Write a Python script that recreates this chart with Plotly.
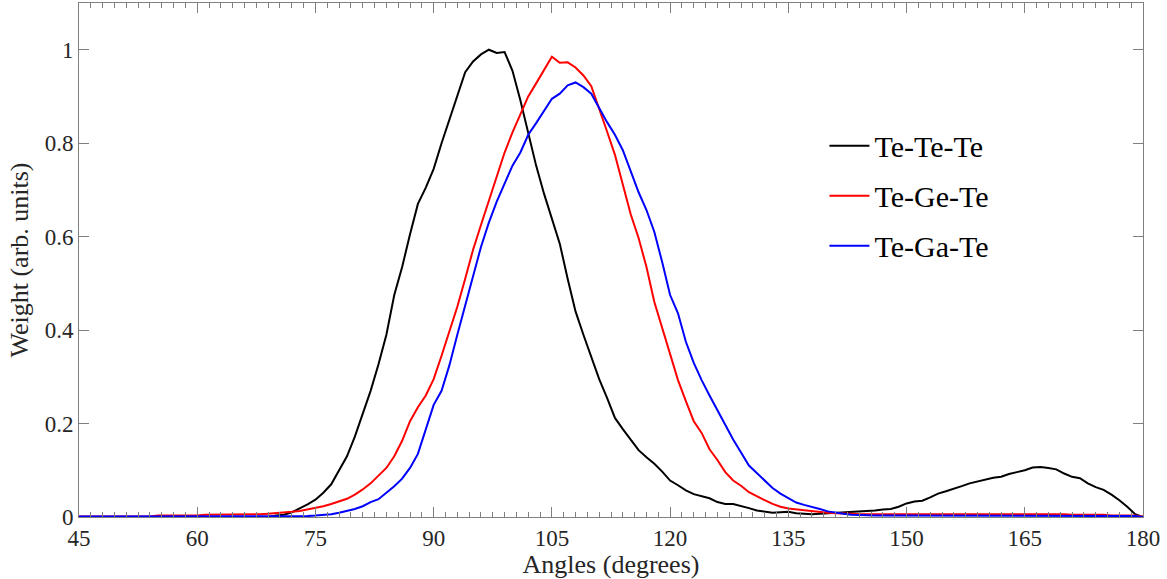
import plotly.graph_objects as go

angles = list(range(45, 181))

te_te_te = ([0.0] * 25 +  # 45-69
    [0.003, 0.005, 0.01, 0.018, 0.027, 0.037, 0.052, 0.07, 0.1, 0.13,   # 70-79
     0.172, 0.22, 0.27, 0.327, 0.39, 0.475, 0.535, 0.605, 0.67, 0.705,  # 80-89
     0.745, 0.8, 0.85, 0.9, 0.952, 0.975, 0.99, 1.0, 0.993, 0.995,      # 90-99
     0.955, 0.892, 0.825, 0.752, 0.692, 0.64, 0.585, 0.51, 0.44, 0.39,   # 100-109
     0.34, 0.295, 0.255, 0.212, 0.188, 0.165, 0.143, 0.128, 0.114, 0.097,  # 110-119
     0.078, 0.068, 0.057, 0.049, 0.045, 0.04, 0.032, 0.028, 0.028, 0.024,  # 120-129
     0.019, 0.014, 0.011, 0.009, 0.01, 0.011, 0.008, 0.007, 0.006, 0.007,  # 130-139
     0.008, 0.009, 0.01, 0.01, 0.011, 0.012, 0.014, 0.016, 0.017, 0.022,  # 140-149
     0.029, 0.033, 0.035, 0.042, 0.05, 0.055, 0.06, 0.066, 0.072, 0.076,  # 150-159
     0.081, 0.084, 0.086, 0.092, 0.096, 0.1, 0.106, 0.107, 0.105, 0.102,  # 160-169
     0.093, 0.086, 0.083, 0.072, 0.064, 0.058, 0.048, 0.036, 0.022, 0.006,  # 170-179
     0.0])

te_ge_te = ([0.001] * 10 + [0.003] * 6 + [0.005] * 7 +  # 45-67
    [0.006, 0.007,                                                        # 68-69
     0.008, 0.01, 0.011, 0.013, 0.016, 0.019, 0.023, 0.028, 0.033, 0.039,  # 70-79
     0.048, 0.059, 0.072, 0.088, 0.105, 0.13, 0.163, 0.205, 0.235, 0.26,  # 80-89
     0.295, 0.345, 0.395, 0.45, 0.51, 0.572, 0.625, 0.678, 0.73, 0.78,    # 90-99
     0.823, 0.86, 0.9, 0.928, 0.958, 0.985, 0.972, 0.973, 0.962, 0.945,   # 100-109
     0.922, 0.875, 0.825, 0.775, 0.71, 0.648, 0.597, 0.535, 0.46, 0.405,  # 110-119
     0.35, 0.293, 0.248, 0.205, 0.18, 0.145, 0.122, 0.096, 0.078, 0.067,  # 120-129
     0.053, 0.044, 0.036, 0.028, 0.022, 0.018, 0.016, 0.014, 0.012, 0.01,  # 130-139
     0.009, 0.008, 0.008, 0.007, 0.006, 0.006, 0.006, 0.006, 0.006, 0.006,  # 140-149
     0.006, 0.006, 0.006, 0.006, 0.006, 0.007, 0.007, 0.007, 0.007, 0.007,  # 150-159
     0.007, 0.007, 0.007, 0.007, 0.007, 0.007, 0.007, 0.007, 0.006, 0.006,  # 160-169
     0.006, 0.005, 0.005, 0.005, 0.005, 0.005, 0.003, 0.003, 0.003, 0.003,  # 170-179
     0.001])

te_ga_te = ([0.001] * 26 +  # 45-70
    [0.002, 0.002, 0.002, 0.002, 0.003, 0.004, 0.006, 0.009, 0.013,       # 71-79
     0.017, 0.023, 0.032, 0.038, 0.051, 0.066, 0.082, 0.105, 0.135, 0.19,  # 80-89
     0.24, 0.27, 0.325, 0.39, 0.455, 0.515, 0.578, 0.63, 0.675, 0.712,    # 90-99
     0.752, 0.78, 0.818, 0.843, 0.87, 0.895, 0.906, 0.924, 0.93, 0.92,    # 100-109
     0.906, 0.875, 0.845, 0.818, 0.785, 0.74, 0.695, 0.657, 0.61, 0.545,  # 110-119
     0.475, 0.436, 0.375, 0.33, 0.293, 0.26, 0.228, 0.195, 0.166, 0.138,  # 120-129
     0.11, 0.094, 0.077, 0.062, 0.05, 0.04, 0.031, 0.026, 0.022, 0.017,   # 130-139
     0.012, 0.009, 0.007, 0.005, 0.004, 0.003, 0.003, 0.003, 0.003, 0.003,  # 140-149
     0.003] + [0.002] * 29 + [0.0])  # 150, 151-179, 180

series = [
    ("Te-Te-Te", te_te_te, "#000000"),
    ("Te-Ge-Te", te_ge_te, "#ff0000"),
    ("Te-Ga-Te", te_ga_te, "#0000ff"),
]

x_ticks = [45, 60, 75, 90, 105, 120, 135, 150, 165, 180]
y_ticks = [0, 0.2, 0.4, 0.6, 0.8, 1.0]
y_tick_text = ["0", "0.2", "0.4", "0.6", "0.8", "1"]

fig = go.Figure()
for i, (name, ys, color) in enumerate(series):
    fig.add_trace(go.Scatter(x=angles, y=ys, mode="lines", name=name,
                             legendgroup=f"g{i}",
                             line=dict(color=color, width=2)))

font_family = "Liberation Serif, Times New Roman, serif"
axis_color = "#7f7f7f"

fig.update_layout(
    width=1167, height=579,
    margin=dict(l=79, r=24, t=3, b=62),
    paper_bgcolor="white", plot_bgcolor="white",
    font=dict(family=font_family, size=21, color="#262626"),
    showlegend=True,
    legend=dict(x=0.7006, y=0.625, xanchor="left", yanchor="middle",
                font=dict(family=font_family, size=30, color="#000000"),
                bgcolor="rgba(0,0,0,0)", traceorder="grouped",
                tracegroupgap=8, itemwidth=40),
    xaxis=dict(range=[45, 180], tickmode="array", tickvals=x_ticks,
               ticks="inside", ticklen=10, tickcolor=axis_color,
               showline=True, linecolor=axis_color, linewidth=1,
               mirror="ticks", showgrid=False, zeroline=False,
               automargin=False,
               minor=dict(dtick=1.5, tick0=45, ticks="inside", ticklen=5,
                          tickcolor=axis_color, showgrid=False),
               tickfont=dict(size=23),
               title=dict(text="Angles (degrees)", font=dict(size=26),
                          standoff=5)),
    yaxis=dict(range=[0, 1.1], tickmode="array", tickvals=y_ticks,
               ticktext=y_tick_text,
               ticks="inside", ticklen=10, tickcolor=axis_color,
               showline=True, linecolor=axis_color, linewidth=1,
               mirror="ticks", showgrid=False, zeroline=False,
               automargin=False,
               tickfont=dict(size=23),
               title=dict(text="Weight (arb. units)", font=dict(size=26),
                          standoff=8)),
)

fig.write_html("out.html",
               config={"displayModeBar": False},
               post_script="document.body.style.margin='0';"
                           "document.body.style.padding='0';")
